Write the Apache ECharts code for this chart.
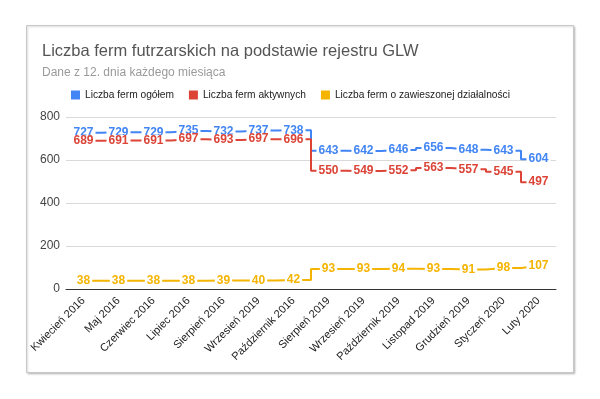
<!DOCTYPE html>
<html>
<head>
<meta charset="utf-8">
<script src="https://cdn.jsdelivr.net/npm/echarts@6/dist/echarts.min.js"></script>
<style>
  html, body { margin: 0; padding: 0; background: #fff; }
  #chart { width: 600px; height: 399px; }
</style>
</head>
<body>
<div id="chart"></div>
<script>
// dane z wykresu
const categories = [
    'Kwiecień 2016', 'Maj 2016', 'Czerwiec 2016', 'Lipiec 2016', 'Sierpień 2016',
    'Wrzesień 2019', 'Październik 2016', 'Sierpień 2019', 'Wrzesień 2019',
    'Październik 2019', 'Listopad 2019', 'Grudzień 2019', 'Styczeń 2020', 'Luty 2020'
];
const ogolem = [727, 729, 729, 735, 732, 737, 738, 643, 642, 646, 656, 648, 643, 604];
const aktywne = [689, 691, 691, 697, 693, 697, 696, 550, 549, 552, 563, 557, 545, 497];
const zawieszone = [38, 38, 38, 38, 39, 40, 42, 93, 93, 94, 93, 91, 98, 107];
const yTicks = [0, 200, 400, 600, 800];

const chart = echarts.init(document.getElementById('chart'), null, { renderer: 'canvas' });

function stepSeries(name, data, color) {
    return {
        name: name,
        type: 'line',
        step: 'middle',
        data: data,
        symbol: 'circle',
        symbolSize: 0,
        color: color,
        lineStyle: { width: 2, color: color },
        label: {
            show: true,
            position: 'inside',
            color: color,
            fontFamily: 'Arial',
            fontSize: 12,
            fontWeight: 'bold',
            backgroundColor: '#fff',
            padding: [0, 2],
            lineHeight: 11
        }
    };
}

const option = {
    animation: false,
    backgroundColor: '#fff',
    textStyle: { fontFamily: 'Arial' },
    graphic: [{
        type: 'rect',
        shape: { x: 26.5, y: 25.5, width: 547, height: 347 },
        style: { fill: '#fff', stroke: '#c8c8c8', lineWidth: 1, shadowBlur: 2, shadowOffsetX: 1, shadowOffsetY: 1, shadowColor: 'rgba(0,0,0,0.2)' },
        z: -10
    }],
    title: {
        text: 'Liczba ferm futrzarskich na podstawie rejestru GLW',
        subtext: 'Dane z 12. dnia każdego miesiąca',
        left: 42,
        top: 43,
        itemGap: 7,
        padding: 0,
        textStyle: { fontFamily: 'Arial', fontSize: 16.5, fontWeight: 'normal', color: '#555' },
        subtextStyle: { fontFamily: 'Arial', fontSize: 12, color: '#9a9a9a' }
    },
    legend: {
        left: 71,
        top: 90,
        padding: 0,
        icon: 'rect',
        itemWidth: 9,
        itemHeight: 9,
        itemGap: 15,
        textStyle: { fontFamily: 'Arial', fontSize: 10.2, color: '#222' },
        data: ['Liczba ferm ogółem', 'Liczba ferm aktywnych', 'Liczba ferm o zawieszonej działalności']
    },
    grid: { left: 66, right: 44, top: 117, bottom: 110 },
    xAxis: {
        type: 'category',
        data: categories,
        boundaryGap: true,
        axisLine: { lineStyle: { color: '#333', width: 1 } },
        axisTick: { show: false },
        axisLabel: { rotate: 45, fontSize: 11, color: '#222', margin: 10, interval: 0 }
    },
    yAxis: {
        type: 'value',
        min: yTicks[0],
        max: yTicks[yTicks.length - 1],
        interval: 200,
        axisLine: { show: false },
        axisTick: { show: false },
        axisLabel: { fontSize: 12, color: '#444', margin: 6 },
        splitLine: { lineStyle: { color: '#d9d9d9' } }
    },
    series: [
        stepSeries('Liczba ferm ogółem', ogolem, '#4285f4'),
        stepSeries('Liczba ferm aktywnych', aktywne, '#db4437'),
        stepSeries('Liczba ferm o zawieszonej działalności', zawieszone, '#f4b400')
    ]
};

chart.setOption(option);
</script>
</body>
</html>
